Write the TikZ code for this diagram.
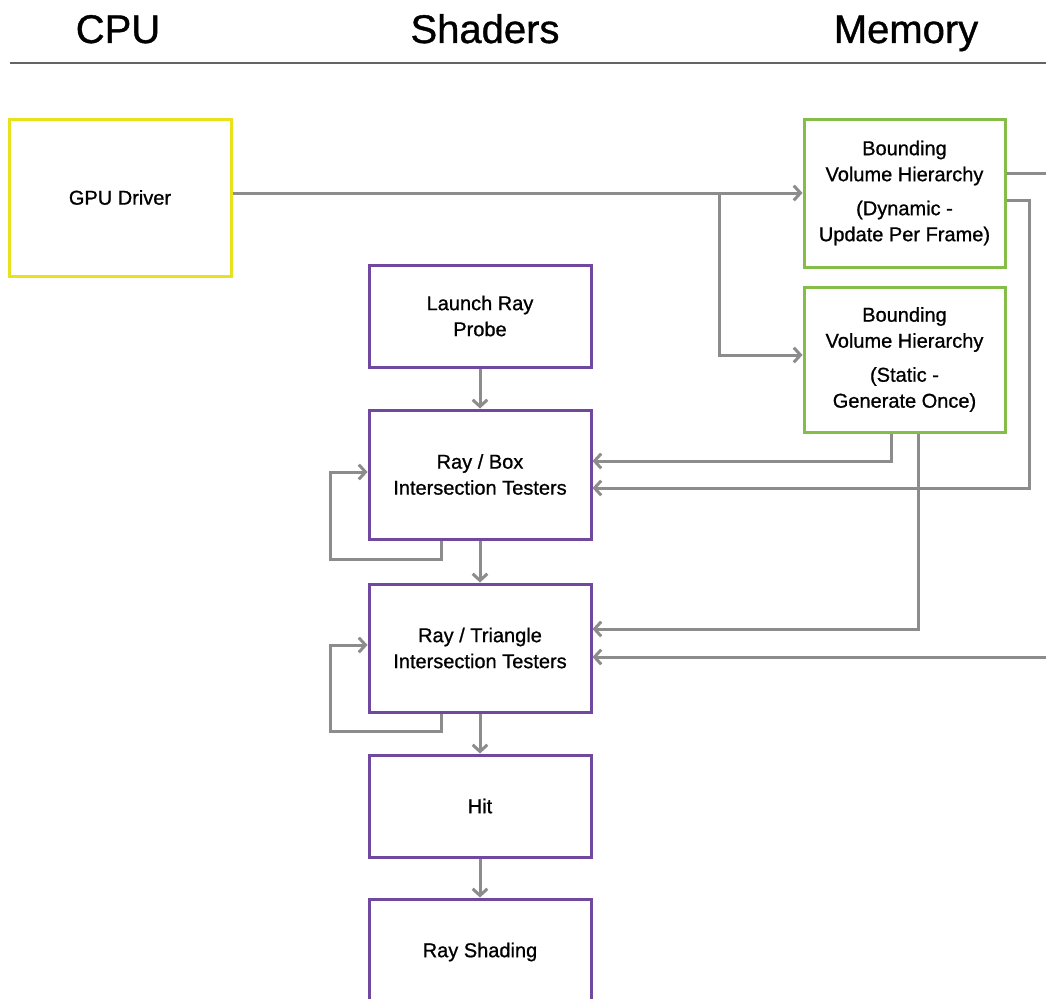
\documentclass[tikz,border=0pt]{standalone}
\usepackage{fontspec}
\setmainfont{Liberation Sans}[FakeBold=0.9]
\usetikzlibrary{arrows.meta}
\definecolor{cpucol}{RGB}{232,226,30}
\definecolor{memcol}{RGB}{132,190,72}
\definecolor{shdcol}{RGB}{112,72,160}
\definecolor{linkcol}{RGB}{140,140,140}
\definecolor{rulecol}{RGB}{100,100,100}
\begin{document}
\begin{tikzpicture}[x=0.75pt,y=-0.75pt,
    head/.style={anchor=base,font=\fontsize{30}{34}\selectfont},
    blk/.style={draw,line width=2.25pt,align=center,inner sep=0pt,
      font=\fontsize{15}{19.5}\selectfont,minimum width=166.5pt},
    cpublk/.style={blk,draw=cpucol},
    memblk/.style={blk,draw=memcol,minimum width=150.75pt},
    shdblk/.style={blk,draw=shdcol},
    link/.style={draw=linkcol,line width=2.25pt,
      -{Straight Barb[length=5pt,width=11pt]}},
    plain/.style={draw=linkcol,line width=2.25pt}]
  \useasboundingbox (0,0) rectangle (1046,999);
  % column heads
  \node[head] (hcpu) at (118,43) {CPU};
  \node[head] (hshd) at (485,43) {Shaders};
  \node[head] (hmem) at (906,43) {Memory};
  \draw[rulecol,line width=1.5pt] (10,63) -- (1046,63);
  % blocks
  \node[cpublk,minimum height=117.75pt] (drv) at (120,197.5) {GPU Driver};
  \node[memblk,minimum height=111pt] (dyn) at (904.5,193)
    {Bounding\\Volume Hierarchy\\[6pt](Dynamic -\\Update Per Frame)};
  \node[memblk,minimum height=108.75pt] (stat) at (904.5,359.5)
    {Bounding\\Volume Hierarchy\\[6pt](Static -\\Generate Once)};
  \node[shdblk,minimum height=76.5pt] (launch) at (480,316) {Launch Ray\\Probe};
  \node[shdblk,minimum height=96.75pt] (boxt) at (480,474.5)
    {Ray / Box\\Intersection Testers};
  \node[shdblk,minimum height=96pt] (trit) at (480,648)
    {Ray / Triangle\\Intersection Testers};
  \node[shdblk,minimum height=76.5pt] (hit) at (480,806) {Hit};
  \node[shdblk,minimum height=79.5pt] (shade) at (480,952) {Ray Shading};
  % connectors
  \coordinate (split) at (719,193);
  \coordinate (dynout) at (1046,173);
  \coordinate (rbus) at (1029,488);
  \coordinate (trin) at (1046,657);
  \draw[link] (drv.east |- split) -- (dyn.west |- split);
  \draw[link] (split) |- (stat.west |- 0,355);
  \draw[plain] (dyn.east |- dynout) -- (dynout);
  \draw[link] (dyn.east |- 0,200) -| (rbus) -- (boxt.east |- rbus);
  \draw[link] (stat.south -| 891,0) |- (boxt.east |- 0,461);
  \draw[link] (stat.south -| 918,0) |- (trit.east |- 0,629);
  \draw[link] (trin) -- (trit.east |- trin);
  \begin{scope}
    \draw[link] (launch) -- (boxt);
    \draw[link] (boxt) -- (trit);
    \draw[link] (trit) -- (hit);
    \draw[link] (hit) -- (shade);
    \draw[link] (boxt.south -| 441,0) -- (441,559) -| (330,472)
      -- (boxt.west |- 0,472);
    \draw[link] (trit.south -| 441,0) -- (441,731) -| (330,645)
      -- (trit.west |- 0,645);
  \end{scope}
\end{tikzpicture}
\end{document}
